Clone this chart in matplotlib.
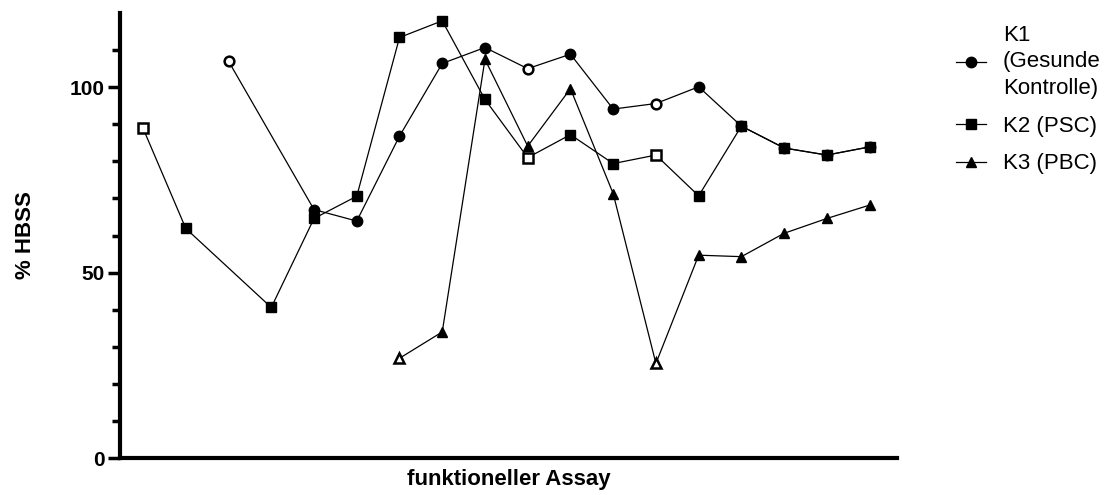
import numpy as np
import matplotlib.pyplot as plt
from matplotlib.lines import Line2D

plt.rcParams['font.family'] = ['Liberation Sans', 'DejaVu Sans']

nan = np.nan

# 18 assay positions along the x axis
assay_idx = np.arange(18)

k1_values = [nan, nan, 107.0, nan, 67.0, 63.9, 86.8, 106.4, 110.7, 105.0,
             108.9, 94.1, 95.6, 100.1, 89.5, 83.6, 81.7, 83.9]
k2_values = [88.9, 61.9, nan, 40.6, 64.6, 70.6, 113.4, 117.9, 96.7, 81.0,
             87.2, 79.4, 81.7, 70.7, 89.5, 83.6, 81.7, 83.9]
k3_values = [nan, nan, nan, nan, nan, nan, 26.9, 34.0, 107.5, 84.1,
             99.6, 71.3, 25.5, 54.7, 54.3, 60.6, 64.6, 68.2]

# points drawn hollow
k1_open = [2, 9, 12]
k2_open = [0, 9, 12]
k3_open = [6, 12]

labels = ['K1\n(Gesunde\nKontrolle)', 'K2 (PSC)', 'K3 (PBC)']
markers = ['o', 's', '^']

fig = plt.figure(figsize=(11.09, 4.95), dpi=100)
ax = fig.add_axes([0.1082, 0.0747, 0.7006, 0.899])

handles = []
for values, open_pts, mk, lab in zip([k1_values, k2_values, k3_values],
                                     [k1_open, k2_open, k3_open], markers, labels):
    y = np.array(values)
    ok = ~np.isnan(y)
    x = assay_idx[ok]
    ax.plot(x, y[ok], '-', color='black', linewidth=0.9, zorder=2)
    filled = [i for i in x if i not in open_pts]
    ax.plot(filled, y[filled], linestyle='none', marker=mk, markersize=7.5,
            color='black', zorder=3)
    ax.plot(open_pts, y[open_pts], linestyle='none', marker=mk, markersize=7,
            markerfacecolor='white', markeredgecolor='black',
            markeredgewidth=1.8, zorder=3)
    handles.append(Line2D([], [], color='black', linewidth=0.9, marker=mk,
                          markersize=7.5, label=lab))

ax.set_xlim(-0.54, 17.64)
ax.set_ylim(0, 120)
ax.set_yticks([0, 50, 100])
ax.set_yticks(np.arange(10, 120, 10), minor=True)
ax.set_xticks([])

for side in ['top', 'right']:
    ax.spines[side].set_visible(False)
for side in ['left', 'bottom']:
    ax.spines[side].set_linewidth(3)
ax.tick_params(axis='y', which='major', length=9, width=2.5, pad=2,
               labelsize=15)
ax.tick_params(axis='y', which='minor', length=6, width=2.5)
for t in ax.get_yticklabels():
    t.set_fontweight('bold')

ax.set_ylabel('% HBSS', fontsize=16, fontweight='bold')
ax.yaxis.set_label_coords(-0.108, 0.5)
ax.set_xlabel('funktioneller Assay', fontsize=16, fontweight='bold')
ax.xaxis.set_label_coords(0.5, -0.025)

leg = fig.legend(handles=handles, loc='upper left',
                 bbox_to_anchor=(0.862, 0.95), frameon=False, fontsize=16,
                 handlelength=1.35, handletextpad=0.77, labelspacing=0.75,
                 borderpad=0, borderaxespad=0)
for t in leg.get_texts():
    t.set_linespacing(1.35)

fig.savefig('out.png', dpi=100)
